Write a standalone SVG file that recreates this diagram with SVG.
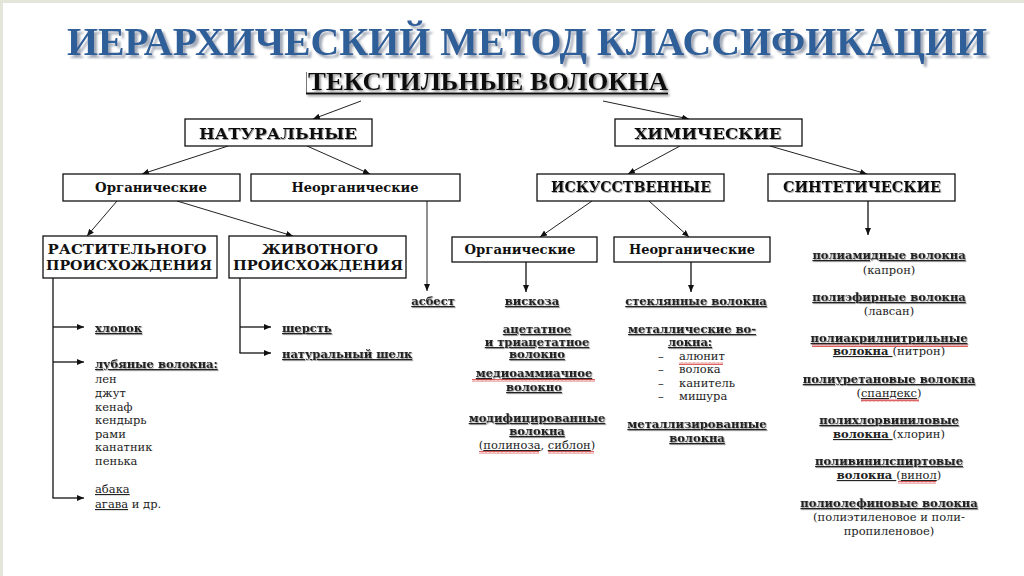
<svg xmlns="http://www.w3.org/2000/svg" width="1024" height="576" viewBox="0 0 1024 576">
<defs>
<style>
.box{fill:#fff;stroke:#111;stroke-width:1.3}
.bl{font-family:"DejaVu Serif","Liberation Serif",serif;font-weight:bold;fill:#111;text-anchor:middle}
.t{font-family:"DejaVu Serif","Liberation Serif",serif;font-size:11.5px;fill:#222}
.b{font-weight:bold;text-decoration:underline}
.u{text-decoration:underline}
.c{text-anchor:middle}
.ln{stroke:#222;stroke-width:1;fill:none}
.lk{stroke:#111;stroke-width:1.3;fill:none}
.ttl{font-family:"Liberation Serif","Times New Roman",serif;font-weight:bold;text-anchor:middle}
</style>
<marker id="ah" markerWidth="7" markerHeight="6" refX="7" refY="3" orient="auto" markerUnits="userSpaceOnUse"><path d="M0,0 L7,3 L0,6 z" fill="#111"/></marker>
<pattern id="wavy" width="4" height="3" patternUnits="userSpaceOnUse"><path d="M0 2.5 L1 0.5 L2 2.5 L3 0.5 L4 2.5" fill="none" stroke="#d02020" stroke-width="0.7"/></pattern>
<filter id="sh" x="-5%" y="-20%" width="110%" height="140%"><feDropShadow dx="0.8" dy="0.8" stdDeviation="0.4" flood-color="#777" flood-opacity="0.8"/></filter>
<filter id="tsh" filterUnits="userSpaceOnUse" x="0" y="0" width="1024" height="80"><feDropShadow dx="3" dy="3" stdDeviation="1.2" flood-color="#9aa2b0" flood-opacity="0.9"/></filter>
<filter id="rsh" filterUnits="userSpaceOnUse" x="280" y="60" width="420" height="45"><feDropShadow dx="1.5" dy="1.5" stdDeviation="0.8" flood-color="#666" flood-opacity="0.8"/></filter>
</defs>
<rect x="0" y="0" width="1024" height="576" fill="#fff"/>
<rect x="0" y="0" width="1024" height="3" fill="#e4e6da"/>
<rect x="0" y="0" width="3" height="576" fill="#e4e6da"/>

<g id="title">
<text class="ttl" x="527" y="55" font-size="40" fill="#2f5e98" textLength="920" lengthAdjust="spacingAndGlyphs" filter="url(#tsh)">ИЕРАРХИЧЕСКИЙ МЕТОД КЛАССИФИКАЦИИ</text>
</g>

<g id="root">
<line x1="306.5" y1="72" x2="306.5" y2="94" stroke="#777" stroke-width="1"/>
<g filter="url(#rsh)">
<text class="ttl" x="488" y="90" font-size="26" fill="#111" textLength="360" lengthAdjust="spacingAndGlyphs">ТЕКСТИЛЬНЫЕ ВОЛОКНА</text>
<rect x="306" y="92.5" width="362" height="2" fill="#111"/>
</g>
</g>

<g id="connectors">
<line class="ln" x1="361" y1="101" x2="313" y2="119" marker-end="url(#ah)"/>
<line class="ln" x1="603" y1="101" x2="689" y2="119" marker-end="url(#ah)"/>
<line class="ln" x1="228" y1="146" x2="142" y2="174" marker-end="url(#ah)"/>
<line class="ln" x1="307" y1="146" x2="370" y2="174" marker-end="url(#ah)"/>
<line class="ln" x1="680" y1="146" x2="628" y2="174" marker-end="url(#ah)"/>
<line class="ln" x1="770" y1="146" x2="867" y2="174" marker-end="url(#ah)"/>
<line class="ln" x1="117" y1="201" x2="87" y2="236" marker-end="url(#ah)"/>
<line class="ln" x1="177" y1="201" x2="293" y2="236" marker-end="url(#ah)"/>
<line class="ln" x1="427" y1="201" x2="427" y2="291" marker-end="url(#ah)"/>
<line class="ln" x1="592" y1="201" x2="540" y2="237" marker-end="url(#ah)"/>
<line class="ln" x1="649" y1="201" x2="689" y2="237" marker-end="url(#ah)"/>
<line class="lk" x1="868" y1="201" x2="868" y2="235" marker-end="url(#ah)"/>
<line class="lk" x1="526" y1="262" x2="526" y2="292" marker-end="url(#ah)"/>
<line class="lk" x1="691" y1="262" x2="691" y2="292" marker-end="url(#ah)"/>
<path class="lk" d="M53,278 V498"/>
<line class="lk" x1="53" y1="327" x2="84" y2="327" marker-end="url(#ah)"/>
<line class="lk" x1="53" y1="362" x2="84" y2="362" marker-end="url(#ah)"/>
<line class="lk" x1="52.5" y1="498" x2="84" y2="498" marker-end="url(#ah)"/>
<path class="lk" d="M240,278 V353"/>
<line class="lk" x1="240" y1="327" x2="271" y2="327" marker-end="url(#ah)"/>
<line class="lk" x1="239.5" y1="353" x2="271" y2="353" marker-end="url(#ah)"/>
</g>

<g id="natural">
<rect class="box" x="185" y="119" width="187" height="27"/>
<text class="bl" x="278" y="139" font-size="15" textLength="158" lengthAdjust="spacingAndGlyphs" filter="url(#sh)">НАТУРАЛЬНЫЕ</text>
</g>
<g id="chemical">
<rect class="box" x="615" y="119" width="187" height="27"/>
<text class="bl" x="708" y="139" font-size="15" textLength="147" lengthAdjust="spacingAndGlyphs" filter="url(#sh)">ХИМИЧЕСКИЕ</text>
</g>
<g id="nat-organic">
<rect class="box" x="63" y="174" width="177" height="27"/>
<text class="bl" x="151" y="192" font-size="13" textLength="112" lengthAdjust="spacingAndGlyphs">Органические</text>
</g>
<g id="nat-inorganic">
<rect class="box" x="251" y="174" width="209" height="27"/>
<text class="bl" x="355" y="192" font-size="13" textLength="127" lengthAdjust="spacingAndGlyphs">Неорганические</text>
</g>
<g id="artificial">
<rect class="box" x="537" y="174" width="187" height="27"/>
<text class="bl" x="631" y="192" font-size="14" textLength="160" lengthAdjust="spacingAndGlyphs" filter="url(#sh)">ИСКУССТВЕННЫЕ</text>
</g>
<g id="synthetic">
<rect class="box" x="768" y="174" width="187" height="27"/>
<text class="bl" x="862" y="192" font-size="14" textLength="158" lengthAdjust="spacingAndGlyphs" filter="url(#sh)">СИНТЕТИЧЕСКИЕ</text>
</g>
<g id="plant">
<rect class="box" x="43" y="236" width="174" height="42"/>
<text class="bl" x="127" y="254" font-size="13" textLength="159" lengthAdjust="spacingAndGlyphs">РАСТИТЕЛЬНОГО</text>
<text class="bl" x="129" y="270" font-size="13" textLength="166" lengthAdjust="spacingAndGlyphs">ПРОИСХОЖДЕНИЯ</text>
</g>
<g id="animal">
<rect class="box" x="229" y="236" width="177" height="42"/>
<text class="bl" x="320" y="254" font-size="13" textLength="116" lengthAdjust="spacingAndGlyphs">ЖИВОТНОГО</text>
<text class="bl" x="318" y="270" font-size="13" textLength="170" lengthAdjust="spacingAndGlyphs">ПРОИСХОЖДЕНИЯ</text>
</g>
<g id="art-organic">
<rect class="box" x="452" y="237" width="145" height="25"/>
<text class="bl" x="520" y="254" font-size="13" textLength="111" lengthAdjust="spacingAndGlyphs">Органические</text>
</g>
<g id="art-inorganic">
<rect class="box" x="614" y="237" width="156" height="25"/>
<text class="bl" x="692" y="254" font-size="13" textLength="126" lengthAdjust="spacingAndGlyphs">Неорганические</text>
</g>

<g id="plant-list" class="t">
<text x="95" y="332" class="b" filter="url(#sh)">хлопок</text>
<text x="95" y="368" class="b" filter="url(#sh)">лубяные волокна:</text>
<text x="95" y="383">лен</text>
<text x="95" y="397">джут</text>
<text x="95" y="411">кенаф</text>
<text x="95" y="424">кендырь</text>
<text x="95" y="438">рами</text>
<text x="95" y="451">канатник</text>
<text x="95" y="465">пенька</text>
<text x="95" y="493" class="u">абака</text>
<text x="95" y="508"><tspan class="u">агава</tspan> и др.</text>
</g>

<g id="animal-list" class="t">
<text x="282" y="332" class="b" filter="url(#sh)">шерсть</text>
<text x="282" y="358" class="b" filter="url(#sh)">натуральный шелк</text>
</g>

<g id="asbestos" class="t">
<text x="433" y="305" class="b c" filter="url(#sh)">асбест</text>
</g>

<g id="art-organic-list" class="t">
<text x="532" y="305" class="b c" filter="url(#sh)">вискоза</text>
<text x="537" y="333" class="b c" filter="url(#sh)">ацетатное</text>
<text x="537" y="346" class="b c" filter="url(#sh)">и триацетатное</text>
<text x="537" y="358" class="b c" filter="url(#sh)">волокно</text>
<text x="534" y="377" class="b c" filter="url(#sh)">медиоаммиачное</text>
<rect x="472" y="379" width="123" height="3" fill="url(#wavy)"/>
<text x="534" y="391" class="b c" filter="url(#sh)">волокно</text>
<text x="537" y="422" class="b c" filter="url(#sh)">модифицированные</text>
<text x="537" y="435" class="b c" filter="url(#sh)">волокна</text>
<text x="537" y="449" class="c">(<tspan class="u">полиноза</tspan>, <tspan class="u">сиблон</tspan>)</text>
<rect x="479" y="451" width="60" height="3" fill="url(#wavy)"/>
<rect x="548" y="451" width="46" height="3" fill="url(#wavy)"/>
</g>

<g id="art-inorganic-list" class="t">
<text x="696" y="305" class="b c" filter="url(#sh)">стеклянные волокна</text>
<text x="692" y="333" class="b c" filter="url(#sh)">металлические во-</text>
<text x="690" y="346" class="b c" filter="url(#sh)">локна:</text>
<text x="658" y="360">–</text><text x="679" y="360">алюнит</text>
<rect x="679" y="362" width="44" height="3" fill="url(#wavy)"/>
<text x="658" y="373">–</text><text x="679" y="373">волока</text>
<text x="658" y="387">–</text><text x="679" y="387">канитель</text>
<text x="658" y="400">–</text><text x="679" y="400">мишура</text>
<text x="697" y="428" class="b c" filter="url(#sh)">металлизированные</text>
<text x="697" y="442" class="b c" filter="url(#sh)">волокна</text>
</g>

<g id="synthetic-list" class="t">
<text x="889" y="259" class="b c" filter="url(#sh)">полиамидные волокна</text>
<text x="889" y="274" class="c">(капрон)</text>
<text x="889" y="301" class="b c" filter="url(#sh)">полиэфирные волокна</text>
<text x="889" y="315" class="c">(лавсан)</text>
<text x="889" y="342" class="b c" filter="url(#sh)">полиакрилнитрильные</text>
<rect x="812" y="344" width="156" height="3" fill="url(#wavy)"/>
<text x="889" y="355" class="c"><tspan class="b">волокна </tspan>(нитрон)</text>
<text x="889" y="383" class="b c" filter="url(#sh)">полиуретановые волокна</text>
<text x="889" y="397" class="c">(<tspan class="u">спандекс</tspan>)</text>
<rect x="861" y="399" width="58" height="3" fill="url(#wavy)"/>
<text x="889" y="424" class="b c" filter="url(#sh)">полихлорвиниловые</text>
<text x="889" y="438" class="c"><tspan class="b">волокна </tspan>(хлорин)</text>
<text x="889" y="465" class="b c" filter="url(#sh)">поливинилспиртовые</text>
<text x="889" y="479" class="c"><tspan class="b">волокна </tspan>(<tspan class="u">винол</tspan>)</text>
<rect x="898" y="481" width="38" height="3" fill="url(#wavy)"/>
<text x="889" y="507" class="b c" filter="url(#sh)">полиолефиновые волокна</text>
<text x="889" y="521" class="c">(полиэтиленовое и поли-</text>
<text x="889" y="535" class="c">пропиленовое)</text>
</g>
</svg>
